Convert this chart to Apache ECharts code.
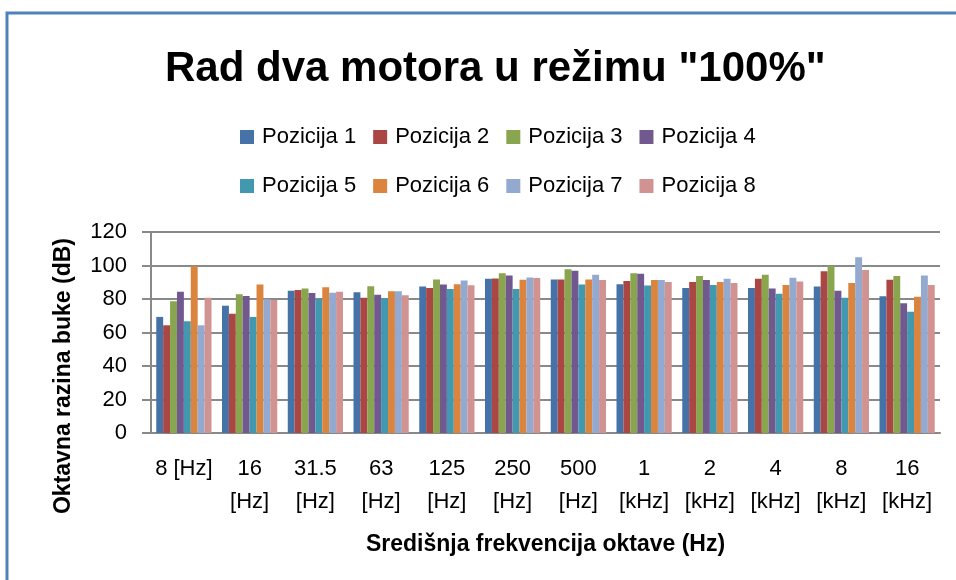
<!DOCTYPE html>
<html>
<head>
<meta charset="utf-8">
<script src="https://cdn.jsdelivr.net/npm/echarts@6/dist/echarts.min.js"></script>
<style>html,body{margin:0;padding:0;background:#fff;}#c{width:956px;height:580px;}</style>
</head>
<body>
<div id="c"></div>
<script>
var categories = ['8 [Hz]', '16\n[Hz]', '31.5\n[Hz]', '63\n[Hz]', '125\n[Hz]', '250\n[Hz]', '500\n[Hz]', '1\n[kHz]', '2\n[kHz]', '4\n[kHz]', '8\n[kHz]', '16\n[kHz]'];
var seriesNames = ['Pozicija 1', 'Pozicija 2', 'Pozicija 3', 'Pozicija 4', 'Pozicija 5', 'Pozicija 6', 'Pozicija 7', 'Pozicija 8'];
var pozicija1 = [69.3, 76.0, 85.0, 84.0, 87.4, 92.1, 91.7, 88.8, 86.6, 86.6, 87.4, 81.6];
var pozicija2 = [64.3, 71.2, 85.4, 80.8, 86.6, 92.3, 91.7, 90.7, 90.1, 92.1, 96.5, 91.5];
var pozicija3 = [78.6, 82.8, 86.2, 87.6, 91.7, 95.3, 97.7, 95.3, 93.7, 94.5, 99.9, 93.7];
var pozicija4 = [84.4, 81.8, 83.6, 82.6, 88.6, 94.1, 96.9, 95.1, 91.3, 86.2, 85.0, 77.4];
var pozicija5 = [66.7, 69.3, 80.0, 80.6, 86.0, 86.0, 88.6, 88.0, 88.4, 83.2, 80.8, 72.4];
var pozicija6 = [99.5, 88.6, 87.0, 84.6, 88.8, 91.5, 91.7, 91.3, 90.1, 88.4, 89.6, 81.4];
var pozicija7 = [64.3, 79.8, 83.8, 84.6, 91.1, 92.9, 94.5, 91.3, 92.1, 92.7, 104.9, 94.1];
var pozicija8 = [80.8, 79.4, 84.4, 82.2, 88.2, 92.5, 91.3, 90.1, 89.6, 90.5, 97.3, 88.4];
var yTicks = { min: 0, max: 120, interval: 20 };

var values = [pozicija1, pozicija2, pozicija3, pozicija4, pozicija5, pozicija6, pozicija7, pozicija8];
var colors = ['#4572A7', '#AA4643', '#89A54E', '#71588F', '#4198AF', '#DB843D', '#93A9CF', '#D19392'];
var FONT = 'Liberation Sans, Arial, sans-serif';

var chart = echarts.init(document.getElementById('c'), null, { renderer: 'canvas' });
var legendCommon = {
  orient: 'horizontal',
  left: 240,
  padding: 0,
  itemWidth: 14,
  itemHeight: 14,
  itemGap: 17,
  icon: 'rect',
  textStyle: { fontFamily: FONT, fontSize: 22, color: '#000', padding: [0, 0, 0, 3] }
};
var option = {
  animation: false,
  color: colors,
  title: {
    text: 'Rad dva motora u režimu "100%"',
    left: 160,
    top: 43,
    textStyle: { fontFamily: FONT, fontSize: 42, fontWeight: 'bold', color: '#000' }
  },
  legend: [
    Object.assign({}, legendCommon, { top: 126, data: seriesNames.slice(0, 4) }),
    Object.assign({}, legendCommon, { top: 175, data: seriesNames.slice(4, 8) })
  ],
  grid: { left: 151, right: 16, top: 232, bottom: 147, containLabel: false },
  xAxis: {
    type: 'category',
    data: categories,
    name: 'Središnja frekvencija oktave (Hz)',
    nameLocation: 'middle',
    nameGap: 100,
    nameTextStyle: { fontFamily: FONT, fontSize: 23, fontWeight: 'bold', color: '#000' },
    axisLine: { show: true, lineStyle: { color: '#898989', width: 2 } },
    axisTick: { show: false },
    axisLabel: { interval: 0, margin: 19, fontFamily: FONT, fontSize: 22, color: '#000', lineHeight: 33 }
  },
  yAxis: {
    type: 'value',
    min: yTicks.min,
    max: yTicks.max,
    interval: yTicks.interval,
    axisLine: { show: true, lineStyle: { color: '#898989', width: 2 } },
    axisTick: { show: true, length: 9, lineStyle: { color: '#898989', width: 2 } },
    splitLine: { show: true, lineStyle: { color: '#898989', width: 2 } },
    axisLabel: { margin: 24, fontFamily: FONT, fontSize: 22, color: '#000' }
  },
  graphic: [
    {
      type: 'polyline',
      shape: { points: [[7, 580], [7, 13], [956, 13]] },
      style: { stroke: '#4F81BD', lineWidth: 3, fill: null },
      silent: true
    },
    {
      type: 'text',
      x: 64,
      y: 376,
      rotation: Math.PI / 2,
      style: {
        text: 'Oktavna razina buke (dB)',
        font: 'bold 23px ' + FONT,
        fill: '#000',
        align: 'center',
        verticalAlign: 'middle'
      }
    }
  ],
  series: seriesNames.map(function (n, i) {
    return {
      name: n,
      type: 'bar',
      data: values[i],
      barGap: '0%',
      barCategoryGap: '16%',
      itemStyle: { color: colors[i] }
    };
  })
};
chart.setOption(option);
</script>
</body>
</html>
